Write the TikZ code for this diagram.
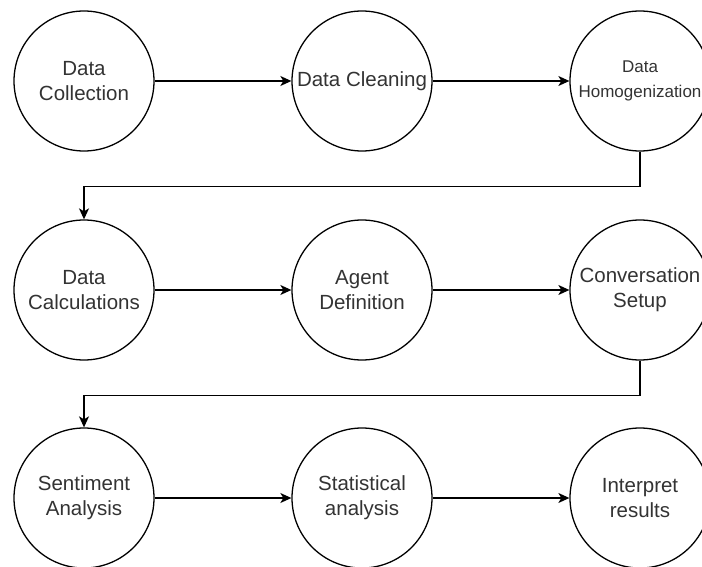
\documentclass[tikz,border=0pt]{standalone}
\usepackage{fontspec}
\setmainfont{Liberation Sans}
\usetikzlibrary{arrows.meta}
\definecolor{txt}{HTML}{333333}
\tikzset{
  stage/.style={circle, draw=black, line width=1.3pt, fill=white,
    minimum size=140pt, inner sep=0pt, align=center, text=txt,
    font=\fontsize{20.5}{25}\selectfont},
  flow/.style={draw=black, line width=1.3pt,
    -{Stealth[length=11pt, width=10pt, inset=3pt]}}
}
\begin{document}
\begin{tikzpicture}[x=1pt, y=-1pt]
  \useasboundingbox[fill=white] (0,0) rectangle (702,567);

  % first row
  \node[stage] (collect) at (84,81)  {Data\\Collection};
  \node[stage] (clean)   at (362,81) {Data Cleaning};
  \node[stage, font=\fontsize{17}{25}\selectfont] (homog) at (640,81) {Data\\Homogenization};

  % second row
  \node[stage] (calc)  at (84,290)  {Data\\Calculations};
  \node[stage] (agent) at (362,290) {Agent\\Definition};
  \node[stage] (conv)  at (640,290) {Conversation\\Setup};

  % third row
  \node[stage] (senti)  at (84,498)  {Sentiment\\Analysis};
  \node[stage] (stats)  at (362,498) {Statistical\\analysis};
  \node[stage] (interp) at (640,498) {Interpret\\results};

  % connectors within rows
  \draw[flow] (collect.east) -- (clean.west);
  \draw[flow] (clean.east) -- (homog.west);
  \draw[flow] (calc.east) -- (agent.west);
  \draw[flow] (agent.east) -- (conv.west);
  \draw[flow] (senti.east) -- (stats.west);
  \draw[flow] (stats.east) -- (interp.west);

  % wrap-around connectors between rows
  \draw[flow] (homog.south) -- ++(0,35) -| (calc.north);
  \draw[flow] (conv.south) -- ++(0,35) -| (senti.north);
\end{tikzpicture}
\end{document}
